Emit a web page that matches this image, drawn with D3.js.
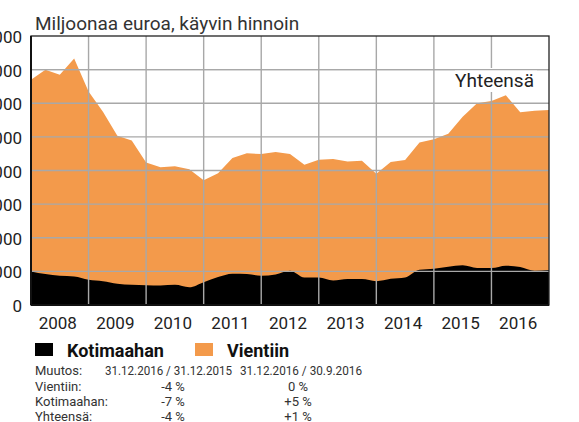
<!DOCTYPE html>
<html><head><meta charset="utf-8">
<script src="https://cdn.jsdelivr.net/npm/d3@7"></script>
<style>
html,body{margin:0;padding:0;background:#fff;}
svg{display:block;font-family:Roboto,"DejaVu Sans",sans-serif;}
</style></head>
<body>
<svg id="chart" width="579" height="422"></svg>
<script>
// Quarter-end dates 31.12.2007 ... 31.12.2016
const quarters = ["2007Q4","2008Q1","2008Q2","2008Q3","2008Q4","2009Q1","2009Q2","2009Q3","2009Q4",
  "2010Q1","2010Q2","2010Q3","2010Q4","2011Q1","2011Q2","2011Q3","2011Q4","2012Q1","2012Q2","2012Q3","2012Q4",
  "2013Q1","2013Q2","2013Q3","2013Q4","2014Q1","2014Q2","2014Q3","2014Q4","2015Q1","2015Q2","2015Q3","2015Q4",
  "2016Q1","2016Q2","2016Q3","2016Q4"];
// Kotimaahan (domestic), million euro
const kotimaahan = [1000,920,870,850,750,710,630,600,590,580,600,530,680,830,930,920,870,910,1020,820,820,
  730,770,770,710,780,820,1050,1080,1140,1180,1100,1100,1170,1130,1020,1040];
// Vientiin (exports), million euro
const vientiin = [5700,6080,5980,6480,5600,5040,4400,4290,3650,3520,3530,3510,3030,3090,3440,3590,3620,3640,3470,3350,3500,
  3610,3500,3520,3190,3470,3490,3780,3850,3950,4420,4900,4970,5070,4600,4760,4760];
const yearLabels = ["2008","2009","2010","2011","2012","2013","2014","2015","2016"];
const yTicks = [0,1000,2000,3000,4000,5000,6000,7000,8000];
const yTickLabels = ["0","1 000","2 000","3 000","4 000","5 000","6 000","7 000","8 000"];
const legendItems = ["Kotimaahan","Vientiin"];
const tableHeader = ["Muutos:","31.12.2016 / 31.12.2015","31.12.2016 / 30.9.2016"];
const tableRows = [["Vientiin:","-4 %","0 %"],["Kotimaahan:","-7 %","+5 %"],["Yhteensä:","-4 %","+1 %"]];

const colors = {Kotimaahan:"#000000", Vientiin:"#F39A4B"};
const svg = d3.select("#chart");
const L=31, R=549, T=36, B=305;
const x = d3.scaleLinear().domain([0, quarters.length-1]).range([L,R]);
const y = d3.scaleLinear().domain([0,8000]).range([B,T]);

const data = quarters.map((q,i)=>({q, Kotimaahan:kotimaahan[i], Vientiin:vientiin[i]}));
const stack = d3.stack().keys(["Kotimaahan","Vientiin"])(data);

// total (exports stacked on domestic) down to zero, then domestic on top
const totalArea = d3.area().x((d,i)=>x(i)).y0(y(0)).y1(d=>y(d[1]));
svg.append("path").datum(stack[1]).attr("d", totalArea).attr("fill", colors.Vientiin);
svg.append("path").datum(stack[0])
  .attr("d", d3.area().x((d,i)=>x(i)).y0(y(0)).y1(d=>y(d[1])).curve(d3.curveMonotoneX))
  .attr("fill", colors.Kotimaahan);

// gridlines
const grid = svg.append("g").attr("stroke","#a8a8a8").attr("stroke-width",1.4);
yTicks.slice(1,-1).forEach(t=>grid.append("line").attr("x1",L).attr("x2",R).attr("y1",y(t)).attr("y2",y(t)));
for(let k=4;k<quarters.length-1;k+=4){
  grid.append("line").attr("x1",x(k)).attr("x2",x(k)).attr("y1",T).attr("y2",B);
}

// Yhteensä label with white backing
const yh = svg.append("g");
yh.append("rect").attr("x",455).attr("y",68).attr("width",82).attr("height",24).attr("fill","#fff");
yh.append("text").attr("x",534).attr("y",86.5).attr("text-anchor","end").attr("font-size",19).attr("fill","#222").text("Yhteensä");
svg.append("line").attr("x1",L).attr("x2",R).attr("y1",y(7000)).attr("y2",y(7000)).attr("stroke","#a8a8a8").attr("stroke-width",1.4);

// frame
svg.append("rect").attr("x",L).attr("y",T).attr("width",R-L).attr("height",B-T).attr("fill","none").attr("stroke","#222").attr("stroke-width",1.3);
svg.append("line").attr("x1",L).attr("x2",L).attr("y1",T).attr("y2",B).attr("stroke","#111").attr("stroke-width",2);
svg.append("line").attr("x1",L).attr("x2",R).attr("y1",B).attr("y2",B).attr("stroke","#111").attr("stroke-width",2);

// y labels
svg.append("g").selectAll("text").data(yTicks).join("text")
  .attr("x",22).attr("y",d=>y(d)+1).attr("dy","0.36em").attr("text-anchor","end")
  .attr("font-size",17).attr("fill","#222").text((d,i)=>yTickLabels[i]);

// year labels
svg.append("g").selectAll("text").data(yearLabels).join("text")
  .attr("x",(d,i)=>x(i*4+2)-2).attr("y",329).attr("text-anchor","middle")
  .attr("font-size",17).attr("fill","#222").text(d=>d);

// title
svg.append("text").attr("x",35).attr("y",29.5).attr("font-size",19).attr("fill","#333").text("Miljoonaa euroa, käyvin hinnoin");

// legend
const lg = svg.append("g");
const lx = [35,195];
legendItems.forEach((k,i)=>{
  lg.append("rect").attr("x",lx[i]).attr("y",343).attr("width",18).attr("height",13).attr("fill",colors[k]);
  lg.append("text").attr("x",lx[i]+32).attr("y",356.5).attr("font-size",18).attr("font-weight","bold").attr("fill","#111").text(k);
});

// table
const tb = svg.append("g").attr("font-size",13).attr("fill","#333");
tb.append("text").attr("x",35).attr("y",375).text(tableHeader[0]);
tb.append("text").attr("x",105).attr("y",375).attr("textLength",127).attr("lengthAdjust","spacingAndGlyphs").text(tableHeader[1]);
tb.append("text").attr("x",240).attr("y",375).attr("textLength",122).attr("lengthAdjust","spacingAndGlyphs").text(tableHeader[2]);
tableRows.forEach((r,i)=>{
  const yy = 390.5 + i*15.2;
  tb.append("text").attr("x",35).attr("y",yy).text(r[0]);
  tb.append("text").attr("x",173).attr("y",yy).attr("text-anchor","middle").text(r[1]);
  tb.append("text").attr("x",298).attr("y",yy).attr("text-anchor","middle").text(r[2]);
});
</script>
</body></html>
